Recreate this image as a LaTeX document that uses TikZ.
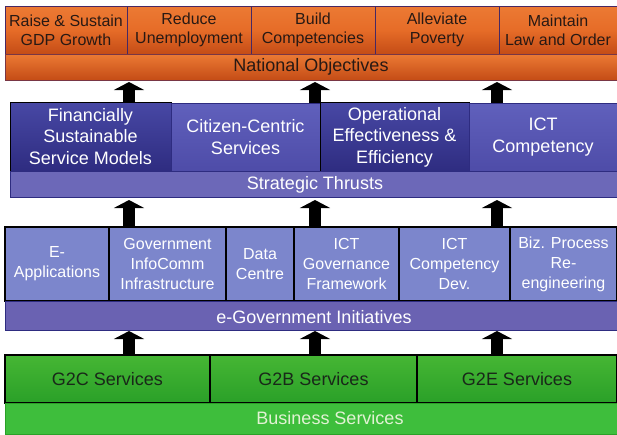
\documentclass[tikz,border=0pt]{standalone}
\usepackage{fontspec}
\setmainfont{Liberation Sans}
\usetikzlibrary{arrows.meta}
\definecolor{orA}{RGB}{236,122,52}
\definecolor{orM}{RGB}{230,108,40}
\definecolor{orB}{RGB}{196,76,22}
\definecolor{orLine}{RGB}{70,40,100}
\definecolor{orText}{RGB}{40,25,20}
\definecolor{thDarkA}{RGB}{72,72,165}
\definecolor{thDarkB}{RGB}{46,44,128}
\definecolor{thLightA}{RGB}{96,96,188}
\definecolor{thLightB}{RGB}{78,76,168}
\definecolor{thBar}{RGB}{108,104,184}
\definecolor{inBox}{RGB}{124,134,204}
\definecolor{egBar}{RGB}{106,98,178}
\definecolor{grA}{RGB}{70,182,52}
\definecolor{grM}{RGB}{125,214,82}
\definecolor{grB}{RGB}{42,160,40}
\definecolor{grBar}{RGB}{62,190,60}
\definecolor{grText}{RGB}{25,40,25}
\definecolor{bsText}{RGB}{226,242,212}
\tikzset{
  base/.style={inner sep=0pt, outer sep=0pt, anchor=north west, align=center},
  objbox/.style={base, top color=orA, bottom color=orB, middle color=orM, draw=orLine, line width=0.8pt,
    text=orText, font=\fontsize{16}{19}\selectfont},
  objbar/.style={base, top color=orA, bottom color=orB, draw=orLine!60!orB, line width=0.8pt},
  thdark/.style={base, top color=thDarkA, bottom color=thDarkB, draw=black, line width=1pt,
    text=white, font=\fontsize{18}{21.5}\selectfont},
  thlight/.style={base, top color=thLightA, bottom color=thLightB, draw=thDarkB, line width=0.6pt,
    text=white, font=\fontsize{18}{21.5}\selectfont},
  thbar/.style={base, fill=thBar, draw=thDarkB, line width=0.8pt},
  inbox/.style={base, fill=inBox, draw=black, line width=1.2pt,
    text=white, font=\fontsize{16}{20}\selectfont},
  egbar/.style={base, fill=egBar, draw=thDarkB, line width=0.8pt},
  grbox/.style={base, top color=grA, middle color=grM, bottom color=grB, draw=black, line width=1.2pt,
    text=grText, font=\fontsize{18}{21}\selectfont},
  grbar/.style={base, fill=grBar, draw=grB, line width=0.6pt},
  barlabel/.style={inner sep=0pt, font=\fontsize{18}{21}\selectfont},
  bigarrow/.style={draw=black, line width=12pt, -{Triangle[width=30pt,length=8pt]}},
}
\begin{document}
\begin{tikzpicture}[x=1pt,y=-1pt]
\useasboundingbox[fill=white] (0,0) rectangle (617,434);
% National objectives
\node[objbox, minimum width=122pt, minimum height=48pt] (o1) at (5,6) {Raise \& Sustain\\GDP Growth};
\node[objbox, minimum width=124pt, minimum height=48pt] (o2) at (127,6) {Reduce\\Unemployment};
\node[objbox, minimum width=124pt, minimum height=48pt] (o3) at (251,6) {Build\\Competencies};
\node[objbox, minimum width=124pt, minimum height=48pt] (o4) at (375,6) {Alleviate\\Poverty};
\node[objbox, minimum width=118pt, minimum height=48pt] (o5) at (499,6) {Maintain\\Law and Order};
\node[objbar, minimum width=612pt, minimum height=26pt] (ob) at (5,54) {};
\node[barlabel, text=orText] (obl) at (311,67) {National Objectives};
% Strategic thrusts
\node[thdark, minimum width=161pt, minimum height=69pt] (t1) at (10,102) {Financially\\Sustainable\\Service Models};
\node[thlight, minimum width=149pt, minimum height=68pt] (t2) at (171,103) {Citizen-Centric\\Services};
\node[thdark, minimum width=149pt, minimum height=70pt] (t3) at (320,102) {Operational\\Effectiveness \&\\Efficiency};
\node[thlight, minimum width=148pt, minimum height=68pt] (t4) at (469,103) {ICT\\Competency};
\node[thbar, minimum width=607pt, minimum height=26pt] (tb) at (10,171) {};
\node[barlabel, text=white] (tbl) at (315,185) {Strategic Thrusts};
% e-Government initiatives
\node[inbox, minimum width=104pt, minimum height=74pt] (i1) at (5,227) {E-\\Applications};
\node[inbox, minimum width=117pt, minimum height=74pt] (i2) at (109,227) {Government\\InfoComm\\Infrastructure};
\node[inbox, minimum width=68pt, minimum height=74pt] (i3) at (226,227) {Data\\Centre};
\node[inbox, minimum width=105pt, minimum height=74pt] (i4) at (294,227) {ICT\\Governance\\Framework};
\node[inbox, minimum width=111pt, minimum height=74pt] (i5) at (399,227) {ICT\\Competency\\Dev.};
\node[inbox, minimum width=107pt, minimum height=74pt] (i6) at (510,227) {Biz. Process\\Re-\\engineering};
\node[egbar, minimum width=612pt, minimum height=29pt] (eb) at (5,301) {};
\node[barlabel, text=white] (ebl) at (314,317) {e-Government Initiatives};
% Business services
\node[grbox, minimum width=205pt, minimum height=48pt] (g1) at (5,355) {G2C Services};
\node[grbox, minimum width=207pt, minimum height=48pt] (g2) at (210,355) {G2B Services};
\node[grbox, minimum width=200pt, minimum height=48pt] (g3) at (417,355) {G2E Services};
\node[grbar, minimum width=612pt, minimum height=31pt] (gb) at (5,403) {};
\node[barlabel, text=bsText] (gbl) at (330,418) {Business Services};
% arrow columns
\coordinate (c1) at (129,0);
\coordinate (c2) at (315,0);
\coordinate (c3) at (497,0);
% arrows
\draw[bigarrow, shorten >=2pt] (c1 |- t1.north) -- (c1 |- ob.south);
\draw[bigarrow, shorten >=2pt] (c2 |- t2.north) -- (c2 |- ob.south);
\draw[bigarrow, shorten >=2pt] (c3 |- t4.north) -- (c3 |- ob.south);
\draw[bigarrow, shorten >=3pt] (c1 |- i2.north) -- (c1 |- tb.south);
\draw[bigarrow, shorten >=3pt] (c2 |- i4.north) -- (c2 |- tb.south);
\draw[bigarrow, shorten >=3pt] (c3 |- i5.north) -- (c3 |- tb.south);
\draw[bigarrow, shorten >=1pt] (c1 |- g1.north) -- (c1 |- eb.south);
\draw[bigarrow, shorten >=1pt] (c2 |- g2.north) -- (c2 |- eb.south);
\draw[bigarrow, shorten >=1pt] (c3 |- g3.north) -- (c3 |- eb.south);
\end{tikzpicture}
\end{document}
